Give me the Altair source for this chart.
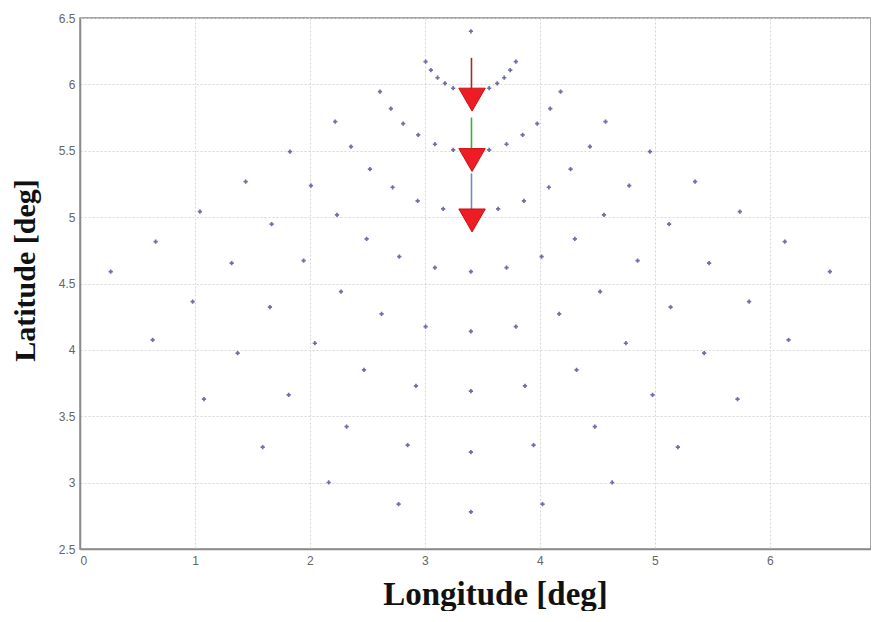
import altair as alt
import pandas as pd

# Scatter points (longitude, latitude)
lon = [3.40, 3.40, 3.40, 3.40, 3.40, 3.40,
       3.006, 3.052, 3.110, 3.174, 3.246, 3.791, 3.742, 3.690, 3.629, 3.559,
       2.609, 2.704, 2.811, 2.942, 3.087, 3.246, 4.180, 4.090, 3.977, 3.850, 3.710, 3.559,
       2.220, 2.357, 2.522, 2.719, 2.937, 3.159, 4.571, 4.435, 4.267, 4.078, 3.861, 3.637,
       1.826, 2.009, 2.235, 2.493, 2.777, 3.087, 4.957, 4.777, 4.557, 4.304, 4.015, 3.710,
       1.441, 1.667, 1.945, 2.270, 2.623, 3.006, 5.350, 5.124, 4.850, 4.524, 4.168, 3.791,
       1.043, 1.319, 1.652, 2.043, 2.470, 2.922, 5.739, 5.472, 5.137, 4.748, 4.319, 3.870,
       0.658, 0.980, 1.371, 1.815, 2.319, 2.850, 6.130, 5.820, 5.429, 4.980, 4.478, 3.945,
       0.267, 0.632, 1.078, 1.589, 2.163, 2.771, 6.522, 6.163, 5.719, 5.200, 4.629, 4.023]
lat = [6.40, 4.59, 4.14, 3.69, 3.23, 2.78,
       6.171, 6.108, 6.050, 6.008, 5.971, 6.171, 6.108, 6.050, 6.008, 5.971,
       5.945, 5.817, 5.704, 5.619, 5.549, 5.506, 5.945, 5.817, 5.704, 5.619, 5.549, 5.506,
       5.719, 5.531, 5.361, 5.225, 5.122, 5.062, 5.719, 5.531, 5.361, 5.225, 5.122, 5.062,
       5.493, 5.237, 5.017, 4.836, 4.703, 4.620, 5.493, 5.237, 5.017, 4.836, 4.703, 4.620,
       5.267, 4.947, 4.672, 4.439, 4.271, 4.175, 5.267, 4.947, 4.672, 4.439, 4.271, 4.175,
       5.041, 4.653, 4.322, 4.050, 3.849, 3.729, 5.041, 4.653, 4.322, 4.050, 3.849, 3.729,
       4.816, 4.364, 3.975, 3.661, 3.422, 3.282, 4.816, 4.364, 3.975, 3.661, 3.422, 3.282,
       4.590, 4.075, 3.629, 3.267, 3.001, 2.838, 4.590, 4.075, 3.629, 3.267, 3.001, 2.838]

# Arrow segments and heads
arrow_lon = [3.405, 3.405, 3.405]
arrow_top = [6.20, 5.75, 5.33]
arrow_bot = [5.90, 5.44, 4.99]
arrow_color = ["#a52a2a", "#33b533", "#6a8fc0"]
head_lon = [3.41, 3.41, 3.41]
head_lat = [5.885, 5.43, 4.975]

x_ticks = [0, 1, 2, 3, 4, 5, 6]
y_ticks = [2.5, 3, 3.5, 4, 4.5, 5, 5.5, 6, 6.5]

pts = pd.DataFrame({"lon": lon, "lat": lat})
arrows = pd.DataFrame({"lon": arrow_lon, "top": arrow_top, "bot": arrow_bot, "c": arrow_color})
heads = pd.DataFrame({"lon": head_lon, "lat": head_lat})

xscale = alt.Scale(domain=[0, 6.88], nice=False, zero=False)
yscale = alt.Scale(domain=[2.5, 6.5], nice=False, zero=False)

xaxis = alt.Axis(values=x_ticks, format="d", title="Longitude [deg]", ticks=False, labelPadding=6,
                 titleFont="Liberation Serif", titleFontSize=33, titleFontWeight="bold",
                 titleColor="#111", titleX=415, titleY=55, titleAnchor="start",
                 titleAlign="center", titleBaseline="alphabetic")
yaxis = alt.Axis(values=y_ticks, format=".1~f", title="Latitude [deg]", ticks=False,
                 labelPadding=5,
                 titleFont="Liberation Serif", titleFontSize=30, titleFontWeight="bold",
                 titleColor="#111", titleX=-46, titleY=252, titleAngle=-90,
                 titleAlign="center", titleBaseline="alphabetic")

points = alt.Chart(pts).mark_point(shape="cross", filled=True, size=18,
                                   color="#55559a", opacity=0.85).encode(
    x=alt.X("lon:Q", scale=xscale, axis=xaxis),
    y=alt.Y("lat:Q", scale=yscale, axis=yaxis),
)

lines = alt.Chart(arrows).mark_rule(strokeWidth=1.6).encode(
    x=alt.X("lon:Q", scale=xscale),
    y=alt.Y("top:Q", scale=yscale),
    y2="bot:Q",
    color=alt.Color("c:N", scale=None),
)

tri = alt.Chart(heads).mark_point(shape="triangle-down", filled=True, size=700,
                                  color="#ee1c24", stroke="#cc1010", strokeWidth=1,
                                  opacity=1).encode(
    x=alt.X("lon:Q", scale=xscale),
    y=alt.Y("lat:Q", scale=yscale),
)

chart = alt.layer(points, lines, tri).properties(
    width=791, height=531,
    autosize=alt.AutoSizeParams(type="none"),
    padding={"left": 72, "top": 10, "right": 0, "bottom": 62},
    background="white",
).configure_view(
    stroke="#8a8a8a", strokeWidth=1.5
).configure_axis(
    domainColor="#8a8a8a", domainWidth=1.5,
    gridColor="#d6d6d6", gridDash=[2, 2], gridWidth=1,
    labelFont="Liberation Sans", labelFontSize=12, labelColor="#666",
)

chart.save("out.html", embed_options={"renderer": "svg", "actions": False})
